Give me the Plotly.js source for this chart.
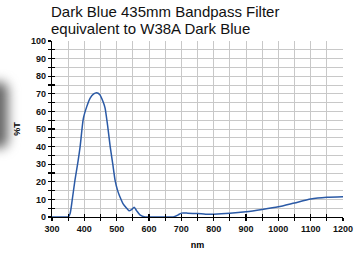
<!DOCTYPE html>
<html><head><meta charset="utf-8">
<script src="https://cdn.plot.ly/plotly-3.0.1.min.js"></script>
<style>body{margin:0;background:#fff}#blob{position:absolute;left:-14px;top:82px;width:22px;height:66px;background:#666;filter:blur(6px);border-radius:8px;z-index:10}</style>
</head><body>
<div id="blob"></div>
<div id="chart" style="width:364px;height:254px;position:relative"></div>
<script>
const titleLines = ["Dark Blue 435mm Bandpass Filter", "equivalent to W38A Dark Blue"];
const xTitle = "nm";
const yTitle = "%T";
const wavelength = [300,345,350,356,362,371,380,387,397,408,418,428,438,448,458,464,472,480,488,495,503,510,520,531,538,546,554,562,572,588,600,650,675,690,700,720,750,775,800,850,900,950,1000,1050,1100,1150,1200];
const transmission = [0,0,0,2,9,21,31,40,56,63,67.6,69.8,70.6,69.5,65.5,62,52,40,30,21,15,11.5,7.5,5,3.6,4.2,5.5,3.5,1.2,0,0,0,0,1.2,2.2,2.2,2,1.6,1.6,2.1,3,4.3,5.8,8,10.2,11.2,11.5];

const fontFam = 'Liberation Sans, Arial, sans-serif';
const gridCol = '#c8c8c8';
function baseAxis(range, dtick, minorDtick) {
  return {
    range: range, dtick: dtick, tick0: range[0],
    showline: true, linecolor: '#000', linewidth: 1.2,
    ticks: 'outside', ticklen: 3, tickcolor: '#000', tickwidth: 1.2,
    showgrid: true, gridcolor: gridCol, gridwidth: 1,
    zeroline: false, fixedrange: true,
    minor: {dtick: minorDtick, showgrid: true, gridcolor: gridCol, ticks: 'outside', ticklen: 3, tickcolor: '#000', tickwidth: 1.2},
    tickfont: {size: 9, family: fontFam, weight: 'bold', color: '#111'}
  };
}
function innerAxis(range, dtick, over, anchor, side) {
  return {
    range: range, dtick: dtick, tick0: range[0], overlaying: over, anchor: anchor, side: side,
    showline: false, ticks: 'inside', ticklen: 3, tickcolor: '#000', tickwidth: 1.2,
    showgrid: false, zeroline: false, showticklabels: false, fixedrange: true
  };
}

const xa = baseAxis([300, 1200], 100, 50);
xa.title = {text: xTitle, font: {size: 9, weight: 'bold', family: fontFam}, standoff: 8};
const ya = baseAxis([0, 100], 10, 5);
ya.title = {text: yTitle, font: {size: 9, weight: 'bold', family: fontFam}, standoff: 8};

Plotly.newPlot('chart', [
  {x: wavelength, y: transmission, type: 'scatter', mode: 'lines',
   line: {color: '#2b5aa6', width: 1.5, shape: 'spline', smoothing: 0.6}, hoverinfo: 'skip'},
  {x: wavelength, y: transmission, xaxis: 'x2', yaxis: 'y2', type: 'scatter', mode: 'lines',
   line: {width: 0}, opacity: 0, hoverinfo: 'skip'}
], {
  width: 364, height: 254,
  margin: {l: 52, r: 21, t: 41, b: 37},
  paper_bgcolor: '#fff', plot_bgcolor: '#fff',
  showlegend: false,
  font: {family: fontFam, color: '#000'},
  xaxis: xa, yaxis: ya,
  xaxis2: innerAxis([300, 1200], 50, 'x', 'y2', 'bottom'),
  yaxis2: innerAxis([0, 100], 5, 'y', 'x2', 'left'),
  annotations: [
    {text: titleLines[0], xref: 'paper', yref: 'paper', x: 0, y: 1, xanchor: 'left', yanchor: 'bottom',
     xshift: -2, yshift: 20, borderpad: 0, showarrow: false, font: {size: 15, color: '#111', family: fontFam}},
    {text: titleLines[1], xref: 'paper', yref: 'paper', x: 0, y: 1, xanchor: 'left', yanchor: 'bottom',
     xshift: -2, yshift: 3, borderpad: 0, showarrow: false, font: {size: 15, color: '#111', family: fontFam}}
  ]
}, {displayModeBar: false, staticPlot: true});
</script>
</body></html>
